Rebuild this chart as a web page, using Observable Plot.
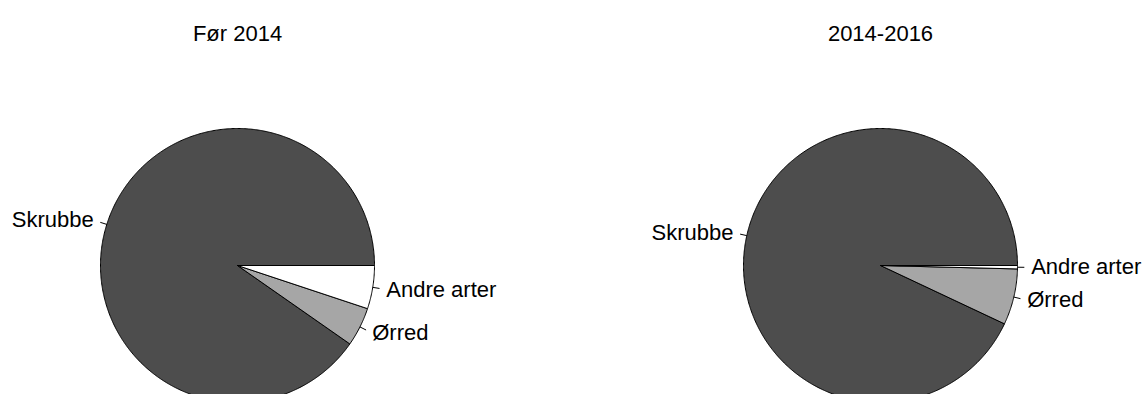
<!DOCTYPE html>
<html>
<head>
<meta charset="utf-8">
<script src="https://cdn.jsdelivr.net/npm/d3@7"></script>
<script src="https://cdn.jsdelivr.net/npm/@observablehq/plot@0.6"></script>
<style>
  html, body { margin: 0; padding: 0; background: #fff; overflow: hidden; }
</style>
</head>
<body>
<div id="chart"></div>
<script>
// ---- data (percent shares) ----
const periods = ["Før 2014", "2014-2016"];
const species = ["Skrubbe", "Ørred", "Andre arter"];
const sharesBefore2014 = [90.3, 4.6, 5.1];
const shares2014to2016 = [93.0, 6.6, 0.4];
const sliceColors = ["#4d4d4d", "#a6a6a6", "#ffffff"];

// ---- layout ----
const W = 1144, H = 394;
const centersX = [237, 880];
const centerY = 265;
const R = 137;
const font = "'Liberation Sans', Arial, Helvetica, sans-serif";

const allShares = [sharesBefore2014, shares2014to2016];

const slicePts = [];
const labels = [];
const ticks = [];
periods.forEach((p, pi) => {
  const vals = allShares[pi];
  const total = d3.sum(vals);
  const cx = centersX[pi];
  let cum = 0;
  vals.forEach((v, si) => {
    const a0 = cum / total * 2 * Math.PI;
    cum += v;
    const a1 = cum / total * 2 * Math.PI;
    const id = p + "|" + species[si];
    const n = Math.max(2, Math.ceil((a1 - a0) / (Math.PI / 360)));
    slicePts.push({id, x: cx, y: centerY, color: sliceColors[si]});
    for (let k = 0; k <= n; k++) {
      const a = a0 + (a1 - a0) * k / n;
      slicePts.push({id, x: cx + R * Math.cos(a), y: centerY - R * Math.sin(a), color: sliceColors[si]});
    }
    slicePts.push({id, x: cx, y: centerY, color: sliceColors[si]});
    const m = (a0 + a1) / 2;
    const c = Math.cos(m), s = Math.sin(m);
    ticks.push({x1: cx + R * c, y1: centerY - R * s, x2: cx + 1.05 * R * c, y2: centerY - 1.05 * R * s});
    labels.push({text: species[si], x: cx + 1.1 * R * c, y: centerY - 1.1 * R * s, left: c < 0});
  });
});

const titles = periods.map((p, i) => ({text: p, x: centersX[i], y: 33}));

const chart = Plot.plot({
  width: W,
  height: H,
  margin: 0,
  x: {domain: [0, W], range: [0, W], axis: null},
  y: {domain: [0, H], range: [0, H], axis: null},
  color: {type: "identity"},
  style: {fontFamily: font, background: "#fff", overflow: "hidden"},
  marks: [
    Plot.line(slicePts, {x: "x", y: "y", z: "id", fill: "color", stroke: "black", strokeWidth: 1, curve: "linear", strokeLinejoin: "round"}),
    Plot.link(ticks, {x1: "x1", y1: "y1", x2: "x2", y2: "y2", stroke: "black", strokeWidth: 1}),
    Plot.text(labels.filter(d => d.left), {x: "x", y: "y", text: "text", textAnchor: "end", fontSize: 22, fill: "black"}),
    Plot.text(labels.filter(d => !d.left), {x: "x", y: "y", text: "text", textAnchor: "start", fontSize: 22, fill: "black"}),
    Plot.text(titles, {x: "x", y: "y", text: "text", textAnchor: "middle", fontSize: 22, fill: "black"})
  ]
});
document.getElementById("chart").appendChild(chart);
</script>
</body>
</html>
